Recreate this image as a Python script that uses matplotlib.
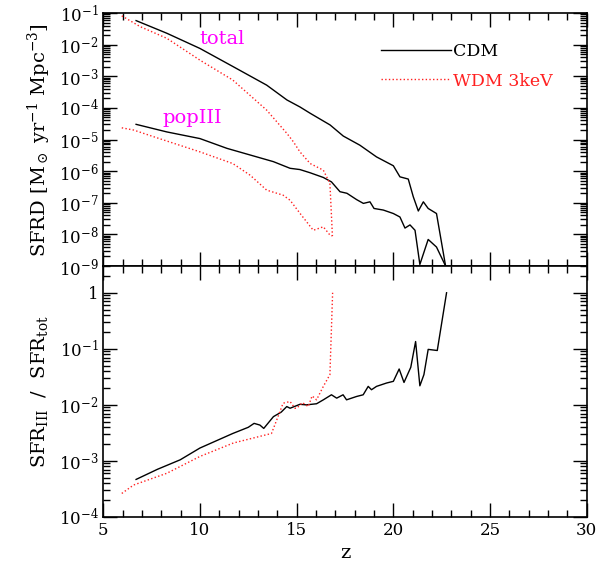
import numpy as np
import matplotlib
matplotlib.use("Agg")
import matplotlib.pyplot as plt
from matplotlib.ticker import LogLocator, MultipleLocator, FuncFormatter, NullFormatter

plt.rcParams["font.family"] = "DejaVu Serif"
plt.rcParams["mathtext.fontset"] = "dejavuserif"

# top panel: log10 SFRD vs z
cdm_tot_z = [6.7, 8.29, 10.0, 11.73, 13.45, 14.5, 15.17, 15.7, 16.73, 17.41, 18.27, 19.13,
             20.0, 20.34, 20.77, 21.03, 21.29, 21.55, 21.8, 22.23, 22.7]
cdm_tot_l = [-1.24, -1.64, -2.12, -2.70, -3.28, -3.75, -3.97, -4.17, -4.54, -4.89, -5.18, -5.55,
             -5.83, -6.18, -6.25, -6.81, -7.26, -6.97, -7.18, -7.34, -9.0]

cdm_p3_z = [6.7, 8.29, 10.0, 11.4, 12.6, 13.8, 14.66, 15.17, 15.69, 16.38, 16.8, 17.24, 17.6,
            18.1, 18.45, 18.79, 19.0, 19.48, 20.0, 20.34, 20.6, 20.86, 21.12, 21.37, 21.8,
            22.23, 22.7]
cdm_p3_l = [-4.52, -4.76, -4.97, -5.28, -5.49, -5.70, -5.91, -5.95, -6.05, -6.20, -6.34, -6.65,
            -6.70, -6.90, -7.02, -6.97, -7.18, -7.23, -7.34, -7.45, -7.80, -7.70, -7.87, -8.95,
            -8.16, -8.40, -9.0]

wdm_tot_z = [5.96, 6.91, 8.29, 10.0, 11.7, 13.45, 14.5, 14.83, 15.17, 15.7, 16.38, 16.72,
             16.85]
wdm_tot_l = [-1.09, -1.43, -1.80, -2.49, -3.12, -4.07, -4.81, -5.07, -5.39, -5.76, -5.97, -6.39,
             -8.05]

wdm_p3_z = [5.96, 6.57, 7.6, 10.0, 11.7, 12.6, 13.45, 14.3, 14.66, 15.18, 15.86, 16.38, 16.72,
            16.85]
wdm_p3_l = [-4.63, -4.70, -4.91, -5.39, -5.76, -6.13, -6.60, -6.76, -6.92, -7.34, -7.87, -7.76,
            -8.02, -8.05]

# bottom panel: log10 SFR_III / SFR_tot
cdm_rat_z = [6.7, 7.8, 8.98, 10.0, 11.7, 12.5, 12.8, 13.1, 13.3, 13.8, 14.2, 14.49, 14.66,
             15.17, 15.5, 16.03, 16.38, 16.8, 17.07, 17.4, 17.58, 18.1, 18.44, 18.7, 18.87,
             19.13, 19.65, 20.0, 20.3, 20.55, 20.9, 21.15, 21.37, 21.58, 21.8, 22.27, 22.75]
cdm_rat_l = [-3.33, -3.15, -2.98, -2.77, -2.51, -2.40, -2.33, -2.36, -2.42, -2.21, -2.13,
             -2.03, -2.06, -1.99, -2.00, -1.98, -1.91, -1.82, -1.88, -1.82, -1.91, -1.85, -1.82,
             -1.67, -1.73, -1.67, -1.61, -1.58, -1.36, -1.60, -1.33, -0.87, -1.66, -1.46, -1.01,
             -1.03, 0.0]

wdm_rat_z = [5.96, 6.57, 8.29, 10.0, 11.73, 13.7, 13.97, 14.3, 14.66, 14.91, 15.0, 15.3, 15.6,
             15.8, 16.03, 16.38, 16.72, 16.86]
wdm_rat_l = [-3.58, -3.43, -3.22, -2.92, -2.68, -2.51, -2.27, -1.97, -1.94, -2.06, -2.06,
             -1.96, -2.03, -1.84, -1.91, -1.67, -1.46, 0.0]

red = "#ff2020"
fig = plt.figure(figsize=(6.0, 5.66), dpi=100)
ax1 = fig.add_axes([0.172, 0.530, 0.806, 0.447])
ax2 = fig.add_axes([0.172, 0.0866, 0.806, 0.4434])

ax1.plot(cdm_tot_z, 10 ** np.array(cdm_tot_l), color="black", lw=1, label="CDM")
ax1.plot(cdm_p3_z, 10 ** np.array(cdm_p3_l), color="black", lw=1)
ax1.plot(wdm_tot_z, 10 ** np.array(wdm_tot_l), color=red, lw=1, ls=":", label="WDM 3keV")
ax1.plot(wdm_p3_z, 10 ** np.array(wdm_p3_l), color=red, lw=1, ls=":")

ax2.plot(cdm_rat_z, 10 ** np.array(cdm_rat_l), color="black", lw=1)
ax2.plot(wdm_rat_z, 10 ** np.array(wdm_rat_l), color=red, lw=1, ls=":")


def powfmt(v, pos):
    if abs(v - 1) < 1e-9:
        return "1"
    return r"$10^{%d}$" % int(round(np.log10(v)))


for ax in (ax1, ax2):
    ax.set_yscale("log")
    ax.set_xlim(5, 30)
    ax.xaxis.set_major_locator(MultipleLocator(5))
    ax.xaxis.set_minor_locator(MultipleLocator(1))
    ax.yaxis.set_major_locator(LogLocator(base=10, numticks=20))
    ax.yaxis.set_minor_locator(LogLocator(base=10, subs=np.arange(2, 10), numticks=20))
    ax.yaxis.set_major_formatter(FuncFormatter(powfmt))
    ax.yaxis.set_minor_formatter(NullFormatter())
    ax.tick_params(which="both", direction="in", top=True, right=True, labelsize=12)
    ax.tick_params(which="major", length=10, width=1)
    ax.tick_params(which="minor", length=5, width=1)
    for s in ax.spines.values():
        s.set_linewidth(1.2)

ax1.set_ylim(1e-9, 1e-1)
ax1.tick_params(labelbottom=False)
ax2.set_ylim(1e-4, 3)

ax1.set_ylabel(r"SFRD [M$_\odot$ yr$^{-1}$ Mpc$^{-3}$]", fontsize=14, labelpad=4)
ax2.set_ylabel(r"SFR$_{\rm III}$  /  SFR$_{\rm tot}$", fontsize=14, labelpad=6)
ax2.set_xlabel("z", fontsize=14)

ax1.text(10.0, 10 ** -1.82, "total", color="magenta", fontsize=14, va="center")
ax1.text(8.05, 10 ** -4.32, "popIII", color="magenta", fontsize=14, va="center")

ax1.legend(loc="upper left", bbox_to_anchor=(0.575, 0.88), frameon=False, fontsize=12.5,
           handlelength=4.0, handletextpad=0.15, labelspacing=0.7, borderpad=0,
           borderaxespad=0, labelcolor="linecolor")

fig.savefig("out.png", dpi=100)
